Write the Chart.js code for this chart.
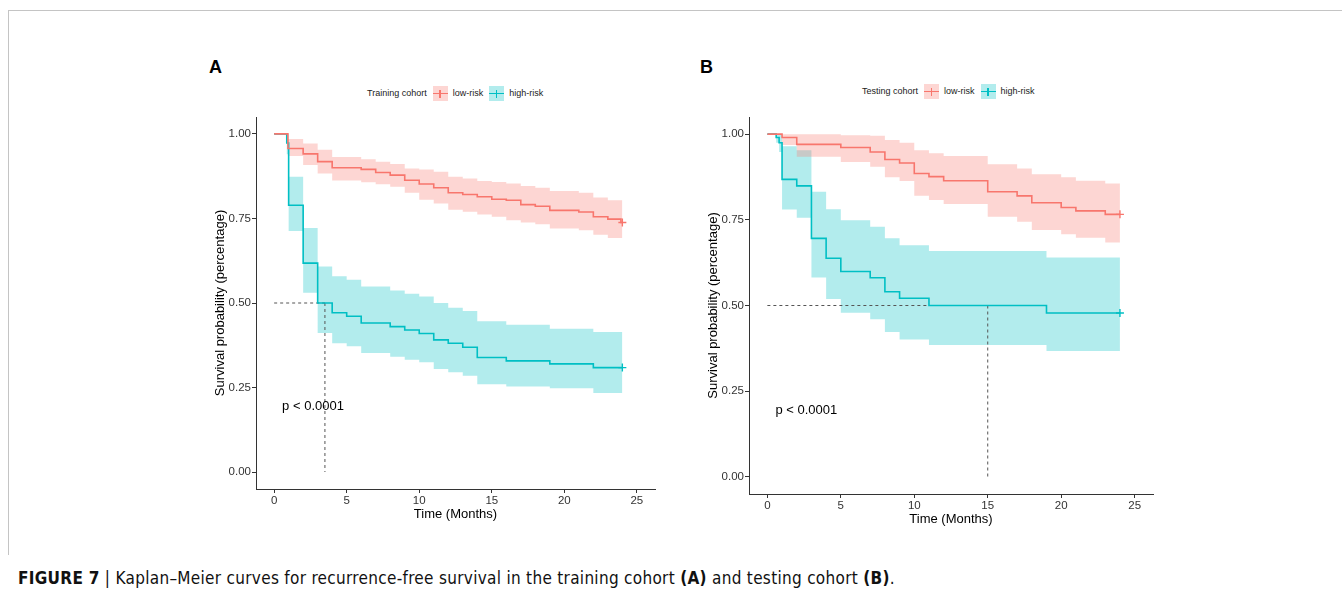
<!DOCTYPE html>
<html>
<head>
<meta charset="utf-8">
<script src="https://cdn.jsdelivr.net/npm/chart.js@4.4.1/dist/chart.umd.min.js"></script>
<style>
  html, body { margin: 0; padding: 0; background: #fff; }
  body { width: 1342px; height: 591px; position: relative; overflow: hidden;
         font-family: "Liberation Sans", Arial, sans-serif; }
  #frame { position: absolute; left: 8px; top: 10px; width: 1334px; height: 545px;
           border-top: 1px solid #c4c4c4; border-left: 1px solid #c4c4c4; box-sizing: border-box; }
  .cv { position: absolute; }
  .letter { position: absolute; font-weight: bold; font-size: 18px; line-height: 18px; color: #000; }
  .legend { position: absolute; height: 15px; font-size: 9px; line-height: 15px; color: #1a1a1a;
            display: flex; align-items: center; white-space: nowrap; }
  .key { position: relative; width: 15px; height: 15px; margin: 0 5px 0 6px; flex: none; }
  .key .h { position: absolute; left: 0; right: 0; top: 6.5px; height: 1.6px; }
  .key .v { position: absolute; left: 6.7px; width: 1.6px; top: 3.5px; height: 8px; }
  #caption { position: absolute; left: 18px; top: 569px; font-family: "Liberation Sans Narrow", "DejaVu Sans Condensed", Arial, sans-serif;
             font-size: 17px; line-height: 18px; letter-spacing: 0.3px; color: #111; white-space: nowrap; }
  #caption b { font-weight: bold; }
</style>
</head>
<body>
<div id="frame"></div>

<div class="letter" style="left:209px; top:58px;">A</div>
<div class="letter" style="left:700px; top:58px;">B</div>

<div class="legend" style="left:367px; top:86px;">
  <span>Training cohort</span>
  <span class="key" style="background:rgba(248,118,109,0.3)"><span class="h" style="background:#F8766D"></span><span class="v" style="background:#F8766D"></span></span>
  <span>low-risk</span>
  <span class="key" style="background:rgba(0,191,196,0.3)"><span class="h" style="background:#00BFC4"></span><span class="v" style="background:#00BFC4"></span></span>
  <span>high-risk</span>
</div>
<div class="legend" style="left:862px; top:84px;">
  <span>Testing cohort</span>
  <span class="key" style="background:rgba(248,118,109,0.3)"><span class="h" style="background:#F8766D"></span><span class="v" style="background:#F8766D"></span></span>
  <span>low-risk</span>
  <span class="key" style="background:rgba(0,191,196,0.3)"><span class="h" style="background:#00BFC4"></span><span class="v" style="background:#00BFC4"></span></span>
  <span>high-risk</span>
</div>

<canvas id="chartA" class="cv" width="474" height="440" style="left:196px; top:100px; width:474px; height:440px;"></canvas>
<canvas id="chartB" class="cv" width="474" height="440" style="left:689px; top:100px; width:474px; height:440px;"></canvas>

<div id="caption"><b>FIGURE 7</b> | Kaplan–Meier curves for recurrence-free survival in the training cohort <b>(A)</b> and testing cohort <b>(B)</b>.</div>

<script>
// ---------------- data ----------------
const xTicks = [0, 5, 10, 15, 20, 25];
const yTicks = [0, 0.25, 0.5, 0.75, 1];
const yTickLabels = ['0.00', '0.25', '0.50', '0.75', '1.00'];
const xTitle = 'Time (Months)';
const yTitle = 'Survival probability (percentage)';
const pValueText = 'p < 0.0001';

// Panel A: training cohort
const trainLowTime  = [0, 0.95, 2, 3, 4, 6, 7, 8, 9, 10, 11, 12, 13, 14, 15, 16, 17, 18, 19, 21, 22, 23, 23.9, 24];
const trainLowSurv  = [1, 0.957, 0.941, 0.918, 0.900, 0.895, 0.886, 0.878, 0.863, 0.852, 0.841, 0.826, 0.821, 0.814, 0.807, 0.804, 0.791, 0.786, 0.774, 0.769, 0.755, 0.748, 0.738, 0.738];
const trainLowUpper = [1, 0.985, 0.972, 0.953, 0.932, 0.925, 0.918, 0.911, 0.898, 0.895, 0.888, 0.873, 0.868, 0.861, 0.858, 0.853, 0.846, 0.841, 0.831, 0.826, 0.812, 0.804, 0.804, 0.804];
const trainLowLower = [1, 0.935, 0.908, 0.883, 0.862, 0.857, 0.851, 0.844, 0.826, 0.805, 0.794, 0.776, 0.770, 0.762, 0.755, 0.745, 0.738, 0.733, 0.720, 0.715, 0.702, 0.692, 0.692, 0.692];

const trainHighTime  = [0, 0.87, 1, 2, 3, 4, 5, 6, 8, 9, 10, 11, 12, 13, 14, 16, 19, 22, 24];
const trainHighSurv  = [1, 0.973, 0.789, 0.618, 0.500, 0.471, 0.461, 0.441, 0.430, 0.420, 0.410, 0.391, 0.381, 0.369, 0.339, 0.329, 0.320, 0.309, 0.309];
const trainHighUpper = [1, 1, 0.873, 0.722, 0.608, 0.579, 0.569, 0.549, 0.537, 0.527, 0.519, 0.500, 0.486, 0.476, 0.446, 0.436, 0.424, 0.414, 0.414];
const trainHighLower = [1, 0.94, 0.713, 0.530, 0.411, 0.381, 0.372, 0.352, 0.341, 0.332, 0.325, 0.305, 0.295, 0.285, 0.260, 0.253, 0.248, 0.234, 0.234];
const trainMedian = 3.5;

// Panel B: testing cohort
const testLowTime  = [0, 1, 2, 5, 7, 8, 9, 10, 11, 12, 15, 17, 18, 20, 21, 23, 24];
const testLowSurv  = [1, 0.990, 0.970, 0.961, 0.948, 0.926, 0.916, 0.885, 0.876, 0.864, 0.832, 0.820, 0.800, 0.786, 0.776, 0.766, 0.766];
const testLowUpper = [1, 1, 1, 0.997, 0.995, 0.983, 0.975, 0.953, 0.944, 0.936, 0.912, 0.900, 0.883, 0.874, 0.864, 0.856, 0.856];
const testLowLower = [1, 0.968, 0.934, 0.919, 0.905, 0.874, 0.863, 0.820, 0.808, 0.796, 0.759, 0.744, 0.720, 0.708, 0.698, 0.684, 0.684];

const testHighTime  = [0, 0.6, 0.8, 1, 2, 3, 4, 5, 7, 8, 9, 11, 19, 24];
const testHighSurv  = [1, 0.990, 0.975, 0.868, 0.849, 0.696, 0.638, 0.599, 0.581, 0.540, 0.521, 0.500, 0.478, 0.478];
const testHighUpper = [1, 1, 1, 0.965, 0.953, 0.832, 0.781, 0.749, 0.730, 0.696, 0.676, 0.659, 0.640, 0.640];
const testHighLower = [1, 0.975, 0.948, 0.780, 0.756, 0.582, 0.519, 0.479, 0.460, 0.423, 0.401, 0.385, 0.367, 0.367];
const testMedian = 15;

// ---------------- styling ----------------
const RED = '#F8766D', TEAL = '#00BFC4';
const RED_FILL = 'rgba(248,118,109,0.3)', TEAL_FILL = 'rgba(0,191,196,0.3)';
const FONT = '"Liberation Sans", Arial, sans-serif';
Chart.defaults.font.family = FONT;

const pts = (t, v) => t.map((x, i) => ({ x, y: v[i] }));

function curveSets(time, surv, upper, lower, color, fill) {
  const last = time.length - 1;
  return [
    { data: pts(time, surv), borderColor: color, borderWidth: 1.6, stepped: 'before',
      pointRadius: 0, fill: false, order: 0 },
    { data: [{ x: time[last], y: surv[last] }], showLine: false, pointStyle: 'cross',
      pointRadius: 4, borderColor: color, borderWidth: 1.4, order: 0 },
    { data: pts(time, upper), borderWidth: 0, borderColor: 'transparent', stepped: 'before',
      pointRadius: 0, fill: '+1', backgroundColor: fill, order: 3 },
    { data: pts(time, lower), borderWidth: 0, borderColor: 'transparent', stepped: 'before',
      pointRadius: 0, fill: false, order: 3 }
  ];
}

function medianSets(m) {
  return [
    { data: [{ x: 0, y: 0.5 }, { x: m, y: 0.5 }], borderColor: '#555', borderWidth: 1,
      borderDash: [3, 3], pointRadius: 0, fill: false, order: 1 },
    { data: [{ x: m, y: 0.5 }, { x: m, y: 0 }], borderColor: '#555', borderWidth: 1,
      borderDash: [3, 3], pointRadius: 0, fill: false, order: 1 }
  ];
}

const pValuePlugin = {
  id: 'pvalue',
  afterDatasetsDraw(chart, args, opts) {
    const { ctx, scales } = chart;
    ctx.save();
    ctx.font = '13px ' + FONT;
    ctx.fillStyle = '#000';
    ctx.textAlign = 'left';
    ctx.textBaseline = 'middle';
    ctx.fillText(opts.text, scales.x.getPixelForValue(opts.x), scales.y.getPixelForValue(opts.y));
    ctx.restore();
  }
};

function makeChart(id, datasets, pad) {
  return new Chart(document.getElementById(id), {
    type: 'line',
    data: { datasets },
    plugins: [pValuePlugin],
    options: {
      responsive: false, animation: false, events: [],
      layout: { padding: pad },
      plugins: {
        legend: { display: false }, tooltip: { enabled: false },
        pvalue: { text: pValueText, x: 0.55, y: 0.195 }
      },
      scales: {
        x: {
          type: 'linear', min: -1.25, max: 26.25,
          afterBuildTicks: s => { s.ticks = xTicks.map(v => ({ value: v })); },
          afterFit: s => { s.height = 40; },
          ticks: { autoSkip: false, maxRotation: 0, padding: 1, color: '#333', font: { size: 11.5 } },
          grid: { drawOnChartArea: false, drawTicks: true, tickLength: 4, color: '#333', lineWidth: 1 },
          border: { display: true, color: '#333', width: 1 },
          title: { display: true, text: xTitle, color: '#000', font: { size: 13 }, padding: { top: 0, bottom: 7 } }
        },
        y: {
          type: 'linear', min: -0.05, max: 1.05,
          afterBuildTicks: s => { s.ticks = yTicks.map(v => ({ value: v })); },
          afterFit: s => { s.width = 54; },
          ticks: { autoSkip: false, padding: 1, color: '#333', font: { size: 11.5 },
                   callback: (v, i) => yTickLabels[i] },
          grid: { drawOnChartArea: false, drawTicks: true, tickLength: 4, color: '#333', lineWidth: 1 },
          border: { display: true, color: '#333', width: 1 },
          title: { display: true, text: yTitle, color: '#000', font: { size: 13 }, padding: { top: 11, bottom: 0 } }
        }
      }
    }
  });
}

makeChart('chartA', [
  ...curveSets(trainLowTime, trainLowSurv, trainLowUpper, trainLowLower, RED, RED_FILL),
  ...curveSets(trainHighTime, trainHighSurv, trainHighUpper, trainHighLower, TEAL, TEAL_FILL),
  ...medianSets(trainMedian)
], { left: 6, right: 15, top: 17, bottom: 11 });

makeChart('chartB', [
  ...curveSets(testLowTime, testLowSurv, testLowUpper, testLowLower, RED, RED_FILL),
  ...curveSets(testHighTime, testHighSurv, testHighUpper, testHighLower, TEAL, TEAL_FILL),
  ...medianSets(testMedian)
], { left: 6, right: 10, top: 17, bottom: 6 });
</script>
</body>
</html>
